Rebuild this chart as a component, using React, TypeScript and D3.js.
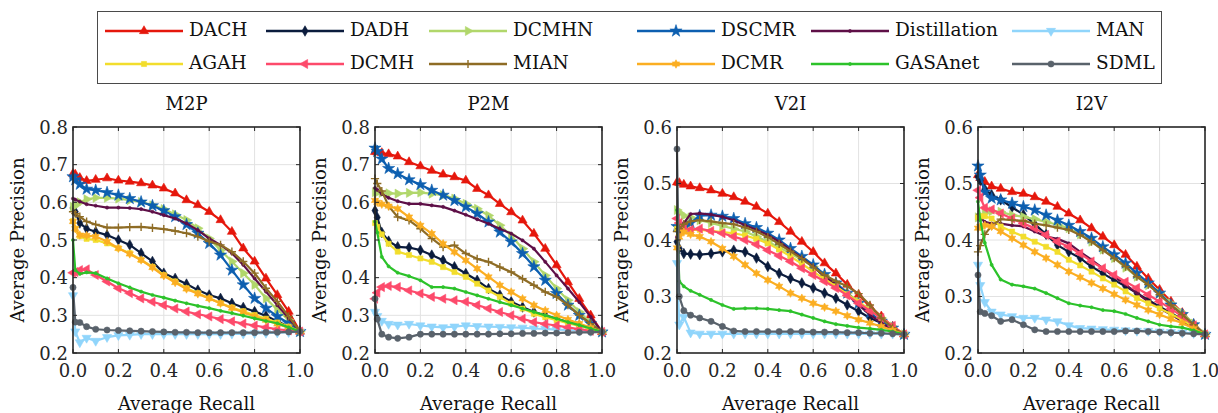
import { useEffect, useRef } from "react";
import * as d3 from "d3";

// recall sample points shared by every curve
const recall = [0, 0.01, 0.03, 0.06, 0.1, 0.15, 0.2, 0.25, 0.3, 0.35, 0.4, 0.45, 0.5, 0.55, 0.6, 0.65, 0.7, 0.75, 0.8, 0.85, 0.9, 0.95, 1];

const methods = ["DACH", "DADH", "DCMHN", "DSCMR", "Distillation", "MAN", "AGAH", "DCMH", "MIAN", "DCMR", "GASAnet", "SDML"];
const colors = ["#e5170c", "#0b1c3d", "#b1d76b", "#0d5fb0", "#5e0f47", "#90d5fb", "#f2dd2c", "#fd4a6b", "#8e6c25", "#fbae22", "#2cc22a", "#59626b"];
const markers = ["triUp", "diamond", "triRight", "star", "dot", "triDown", "square", "triLeft", "plus", "hexagram", "dot", "circle"];

const panelTitles = ["M2P", "P2M", "V2I", "I2V"];
const yTicksHigh = [0.2, 0.3, 0.4, 0.5, 0.6, 0.7, 0.8];
const yTicksLow = [0.2, 0.3, 0.4, 0.5, 0.6];
const xTicks = [0, 0.2, 0.4, 0.6, 0.8, 1];

// precision values, one row per method (same order as `methods`)
const m2p = [
  [.676, .674, .665, .657, .66, .664, .658, .655, .651, .645, .637, .624, .606, .593, .575, .553, .522, .478, .443, .398, .354, .31, .257],
  [.585, .575, .545, .53, .522, .513, .5, .487, .465, .443, .412, .398, .383, .367, .354, .345, .332, .321, .31, .299, .284, .27, .257],
  [.588, .592, .6, .608, .612, .612, .61, .606, .601, .592, .582, .568, .553, .531, .504, .473, .443, .412, .381, .345, .315, .288, .257],
  [.668, .66, .648, .635, .632, .626, .619, .61, .601, .591, .578, .562, .541, .518, .491, .46, .42, .381, .345, .319, .297, .279, .257],
  [.61, .607, .602, .595, .591, .586, .586, .585, .582, .575, .566, .557, .544, .526, .504, .487, .465, .434, .398, .363, .327, .292, .257],
  [.353, .257, .228, .24, .232, .242, .247, .248, .25, .25, .25, .25, .25, .25, .25, .25, .251, .251, .252, .253, .254, .255, .257],
  [.55, .53, .51, .503, .5, .491, .478, .465, .447, .429, .407, .39, .372, .359, .345, .332, .321, .311, .301, .291, .281, .27, .257],
  [.413, .415, .42, .422, .407, .39, .372, .359, .345, .336, .327, .318, .31, .303, .297, .29, .284, .278, .273, .268, .263, .26, .257],
  [.575, .57, .562, .549, .541, .533, .533, .534, .535, .532, .529, .524, .518, .509, .496, .487, .469, .443, .412, .372, .337, .297, .257],
  [.549, .53, .513, .512, .509, .496, .478, .463, .447, .427, .405, .387, .37, .357, .345, .332, .319, .308, .297, .287, .277, .267, .257],
  [.5, .42, .41, .414, .412, .398, .385, .374, .363, .354, .347, .339, .332, .325, .319, .312, .306, .299, .292, .285, .279, .268, .257],
  [.374, .282, .281, .27, .263, .261, .26, .259, .258, .257, .256, .255, .255, .254, .254, .254, .254, .254, .254, .255, .255, .256, .257],
];

const p2m = [
  [.734, .733, .731, .728, .722, .707, .696, .684, .674, .667, .658, .636, .619, .596, .574, .552, .517, .477, .433, .388, .344, .3, .256],
  [.578, .56, .52, .497, .482, .48, .473, .46, .446, .429, .411, .393, .371, .354, .336, .322, .309, .3, .291, .282, .273, .265, .256],
  [.627, .626, .625, .624, .623, .625, .626, .623, .619, .61, .596, .583, .565, .539, .512, .477, .442, .406, .371, .34, .309, .28, .256],
  [.744, .735, .715, .69, .676, .66, .647, .632, .619, .605, .588, .57, .548, .521, .495, .464, .429, .393, .358, .327, .3, .278, .256],
  [.638, .633, .622, .612, .603, .596, .596, .592, .588, .578, .567, .555, .543, .53, .517, .499, .477, .442, .406, .371, .335, .296, .256],
  [.309, .298, .285, .277, .275, .277, .273, .27, .268, .27, .273, .271, .27, .269, .268, .267, .265, .264, .262, .261, .259, .258, .256],
  [.545, .535, .515, .49, .469, .46, .451, .442, .428, .415, .402, .384, .366, .349, .331, .318, .304, .295, .287, .279, .272, .264, .256],
  [.344, .36, .375, .378, .375, .366, .358, .349, .344, .34, .336, .327, .318, .309, .3, .291, .282, .277, .273, .268, .263, .259, .256],
  [.663, .65, .63, .59, .561, .552, .53, .504, .481, .486, .464, .45, .442, .428, .415, .397, .38, .362, .349, .327, .3, .278, .256],
  [.605, .6, .595, .59, .583, .561, .539, .517, .49, .468, .446, .424, .402, .38, .362, .344, .327, .313, .3, .289, .278, .267, .256],
  [.549, .52, .455, .43, .413, .404, .393, .375, .375, .371, .362, .353, .344, .335, .327, .318, .309, .3, .291, .282, .274, .265, .256],
  [.344, .29, .25, .242, .239, .242, .25, .25, .25, .25, .25, .25, .25, .251, .251, .252, .252, .253, .253, .254, .255, .255, .256],
];

const v2i = [
  [.502, .501, .498, .495, .492, .488, .482, .476, .468, .459, .447, .432, .415, .397, .379, .359, .341, .321, .303, .282, .265, .247, .233],
  [.397, .385, .376, .375, .374, .376, .379, .382, .379, .368, .353, .341, .332, .324, .315, .306, .297, .285, .274, .262, .253, .244, .233],
  [.453, .448, .443, .44, .435, .43, .425, .42, .415, .406, .397, .387, .376, .365, .353, .337, .321, .306, .291, .276, .262, .247, .233],
  [.424, .423, .422, .43, .443, .444, .442, .438, .429, .422, .412, .4, .385, .371, .356, .339, .324, .306, .288, .271, .256, .244, .233],
  [.405, .409, .43, .446, .447, .445, .441, .435, .426, .418, .409, .397, .382, .368, .353, .335, .321, .303, .285, .268, .253, .241, .233],
  [.359, .25, .264, .236, .234, .234, .234, .234, .234, .234, .234, .234, .234, .234, .234, .234, .234, .234, .234, .234, .234, .234, .233],
  [.42, .419, .418, .418, .418, .416, .414, .412, .408, .402, .394, .383, .371, .358, .344, .331, .318, .304, .291, .276, .262, .247, .233],
  [.438, .43, .42, .418, .42, .416, .412, .406, .4, .392, .382, .372, .362, .35, .338, .327, .315, .302, .288, .275, .262, .248, .233],
  [.415, .42, .428, .433, .435, .433, .43, .428, .422, .415, .405, .393, .38, .367, .352, .338, .327, .318, .305, .285, .262, .245, .233],
  [.386, .405, .414, .41, .406, .397, .385, .371, .356, .341, .329, .318, .306, .297, .288, .281, .274, .266, .259, .253, .247, .24, .233],
  [.453, .327, .318, .31, .303, .294, .285, .278, .279, .279, .278, .276, .274, .268, .262, .256, .251, .248, .245, .243, .241, .238, .233],
  [.561, .3, .275, .267, .262, .256, .247, .239, .238, .238, .238, .238, .238, .238, .237, .237, .237, .236, .236, .235, .235, .234, .233],
];

const i2v = [
  [.515, .51, .503, .495, .491, .485, .482, .476, .468, .459, .447, .435, .421, .406, .391, .374, .353, .332, .312, .291, .271, .251, .233],
  [.512, .505, .49, .48, .471, .458, .445, .428, .41, .391, .379, .368, .353, .341, .329, .318, .306, .294, .282, .271, .259, .247, .233],
  [.44, .443, .448, .451, .45, .444, .441, .437, .432, .427, .421, .41, .397, .383, .368, .351, .335, .32, .306, .288, .271, .252, .233],
  [.531, .515, .485, .474, .471, .465, .459, .453, .444, .435, .426, .415, .403, .388, .374, .359, .341, .324, .306, .285, .268, .25, .233],
  [.444, .44, .432, .429, .429, .426, .424, .415, .406, .402, .394, .379, .365, .35, .335, .321, .306, .291, .279, .268, .256, .244, .233],
  [.356, .32, .29, .273, .268, .265, .262, .262, .259, .256, .249, .244, .243, .242, .241, .24, .239, .239, .238, .237, .236, .235, .233],
  [.44, .442, .442, .438, .424, .415, .406, .397, .388, .379, .365, .355, .344, .332, .321, .309, .297, .288, .279, .269, .259, .246, .233],
  [.488, .475, .457, .454, .447, .438, .429, .421, .409, .397, .388, .376, .362, .35, .338, .326, .315, .303, .291, .278, .265, .249, .233],
  [.379, .39, .41, .425, .437, .435, .434, .429, .426, .422, .418, .409, .397, .382, .368, .353, .335, .321, .303, .285, .268, .25, .233],
  [.421, .424, .426, .424, .415, .403, .391, .379, .368, .356, .344, .334, .324, .314, .304, .294, .285, .276, .268, .26, .253, .243, .233],
  [.468, .435, .395, .356, .33, .321, .318, .314, .306, .297, .288, .284, .281, .276, .274, .269, .262, .256, .25, .247, .245, .24, .233],
  [.338, .273, .27, .266, .256, .259, .25, .241, .238, .238, .238, .238, .238, .238, .238, .239, .239, .238, .237, .236, .235, .234, .233],
];

const panelData = [m2p, p2m, v2i, i2v];
const panelYTicks = [yTicksHigh, yTicksHigh, yTicksLow, yTicksLow];

const FONT = "DejaVu Serif";

// six-pointed star like MATLAB's 'hexagram'
const symbolHexagram = {
  draw(ctx, size) {
    const r = Math.sqrt(size) * 0.75;
    const ri = r * 0.55;
    for (let i = 0; i < 12; i++) {
      const a = (Math.PI / 6) * i - Math.PI / 2;
      const rr = i % 2 ? ri : r;
      const px = rr * Math.cos(a);
      const py = rr * Math.sin(a);
      if (i === 0) ctx.moveTo(px, py);
      else ctx.lineTo(px, py);
    }
    ctx.closePath();
  },
};

const markerSpec = (kind) => {
  switch (kind) {
    case "triUp": return { type: d3.symbolTriangle, size: 36, rot: 0 };
    case "triDown": return { type: d3.symbolTriangle, size: 36, rot: 180 };
    case "triRight": return { type: d3.symbolTriangle, size: 36, rot: 90 };
    case "triLeft": return { type: d3.symbolTriangle, size: 36, rot: -90 };
    case "diamond": return { type: d3.symbolDiamond, size: 32, rot: 0 };
    case "star": return { type: d3.symbolStar, size: 46, rot: 0 };
    case "square": return { type: d3.symbolSquare, size: 26, rot: 0 };
    case "circle": return { type: d3.symbolCircle, size: 30, rot: 0 };
    case "hexagram": return { type: symbolHexagram, size: 32, rot: 0 };
    case "plus": return { type: d3.symbolPlus, size: 24, rot: 0, stroke: true };
    default: return { type: d3.symbolCircle, size: 8, rot: 0 };
  }
};

const drawMarker = (sel, kind, color) => {
  const s = markerSpec(kind);
  sel
    .attr("d", d3.symbol().type(s.type).size(s.size)())
    .attr("fill", s.stroke ? "none" : color)
    .attr("stroke", color)
    .attr("stroke-width", s.stroke ? 1.4 : 0.6);
  return s.rot;
};

const App = () => {
  const svgRef = useRef(null);
  const width = 1218;
  const height = 413;

  useEffect(() => {
    const svg = d3.select(svgRef.current);
    svg.selectAll("*").remove();

    const plotTop = 127;
    const plotW = 227;
    const plotH = 226;
    const plotLefts = [73, 375, 677, 978];

    // legend
    const legend = svg.append("g");
    legend.append("rect")
      .attr("x", 97.5).attr("y", 11.5)
      .attr("width", 1064).attr("height", 72)
      .attr("fill", "#fff").attr("stroke", "#4a4a4a").attr("stroke-width", 1);
    const legendCols = [105, 266, 429, 637, 811, 1012];
    const legendRows = [31, 64];
    methods.forEach((name, i) => {
      const lx = legendCols[i % 6];
      const ly = legendRows[Math.floor(i / 6)];
      const item = legend.append("g");
      item.append("line")
        .attr("x1", lx).attr("x2", lx + 78)
        .attr("y1", ly).attr("y2", ly)
        .attr("stroke", colors[i]).attr("stroke-width", 2.5);
      const mk = item.append("path");
      const rot = drawMarker(mk, markers[i], colors[i]);
      mk.attr("transform", `translate(${lx + 39},${ly}) rotate(${rot})`);
      item.append("text")
        .attr("x", lx + 84).attr("y", ly + 5)
        .attr("font-family", FONT).attr("font-size", 18.5)
        .attr("fill", "#111")
        .text(name);
    });

    panelTitles.forEach((title, p) => {
      const yTicks = panelYTicks[p];
      const x = d3.scaleLinear().domain([0, 1]).range([0, plotW]);
      const y = d3.scaleLinear().domain([yTicks[0], yTicks[yTicks.length - 1]]).range([plotH, 0]);

      const g = svg.append("g").attr("transform", `translate(${plotLefts[p]},${plotTop})`);

      g.append("rect").attr("width", plotW).attr("height", plotH).attr("fill", "#fff");

      // grid
      g.append("g").selectAll("line")
        .data(xTicks.slice(1, -1)).join("line")
        .attr("x1", (d) => x(d)).attr("x2", (d) => x(d))
        .attr("y1", 0).attr("y2", plotH)
        .attr("stroke", "#e2e2e2").attr("stroke-width", 1);
      g.append("g").selectAll("line")
        .data(yTicks.slice(1, -1)).join("line")
        .attr("y1", (d) => y(d)).attr("y2", (d) => y(d))
        .attr("x1", 0).attr("x2", plotW)
        .attr("stroke", "#e2e2e2").attr("stroke-width", 1);

      const line = d3.line()
        .x((d) => x(d[0]))
        .y((d) => y(d[1]));

      panelData[p].forEach((vals, s) => {
        const pts = recall.map((r, k) => [r, vals[k]]);
        const sg = g.append("g");
        sg.append("path")
          .datum(pts)
          .attr("fill", "none")
          .attr("stroke", colors[s])
          .attr("stroke-width", 2.2)
          .attr("stroke-linejoin", "round")
          .attr("d", line);
        sg.selectAll("path.mk")
          .data(pts).join("path")
          .attr("class", "mk")
          .each(function (d) {
            const el = d3.select(this);
            const rot = drawMarker(el, markers[s], colors[s]);
            el.attr("transform", `translate(${x(d[0])},${y(d[1])}) rotate(${rot})`);
          });
      });

      // box and inward ticks
      g.append("rect")
        .attr("width", plotW).attr("height", plotH)
        .attr("fill", "none").attr("stroke", "#262626").attr("stroke-width", 1.6);
      const tk = 4;
      xTicks.forEach((t) => {
        g.append("line").attr("x1", x(t)).attr("x2", x(t)).attr("y1", plotH).attr("y2", plotH - tk).attr("stroke", "#262626");
        g.append("line").attr("x1", x(t)).attr("x2", x(t)).attr("y1", 0).attr("y2", tk).attr("stroke", "#262626");
      });
      yTicks.forEach((t) => {
        g.append("line").attr("y1", y(t)).attr("y2", y(t)).attr("x1", 0).attr("x2", tk).attr("stroke", "#262626");
        g.append("line").attr("y1", y(t)).attr("y2", y(t)).attr("x1", plotW).attr("x2", plotW - tk).attr("stroke", "#262626");
      });

      // tick labels
      g.append("g").selectAll("text")
        .data(xTicks).join("text")
        .attr("x", (d) => x(d)).attr("y", plotH + 24)
        .attr("text-anchor", "middle")
        .attr("font-family", FONT).attr("font-size", 18).attr("fill", "#262626")
        .text((d) => d3.format(".1f")(d));
      g.append("g").selectAll("text")
        .data(yTicks).join("text")
        .attr("x", -5).attr("y", (d) => y(d) + 6.5)
        .attr("text-anchor", "end")
        .attr("font-family", FONT).attr("font-size", 18).attr("fill", "#262626")
        .text((d) => d3.format(".1f")(d));

      g.append("text")
        .attr("x", plotW / 2).attr("y", -17)
        .attr("text-anchor", "middle")
        .attr("font-family", FONT).attr("font-size", 18).attr("fill", "#111")
        .text(title);
      g.append("text")
        .attr("x", plotW / 2).attr("y", plotH + 57)
        .attr("text-anchor", "middle")
        .attr("font-family", FONT).attr("font-size", 18).attr("fill", "#111")
        .text("Average Recall");
      g.append("text")
        .attr("transform", `translate(-49,${plotH / 2}) rotate(-90)`)
        .attr("text-anchor", "middle")
        .attr("font-family", FONT).attr("font-size", 18).attr("fill", "#111")
        .text("Average Precision");
    });
  }, []);

  return (
    <svg
      ref={svgRef}
      width={width}
      height={height}
      style={{ position: "absolute", left: 0, top: 0, background: "#fff" }}
    />
  );
};

export default App;
